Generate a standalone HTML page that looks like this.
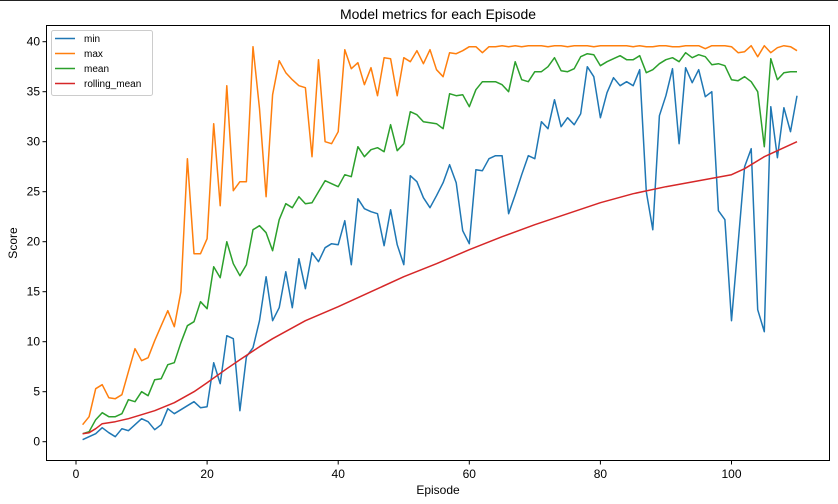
<!DOCTYPE html>
<html><head><meta charset="utf-8"><style>
html,body{margin:0;padding:0;background:#fff;}
svg{display:block;font-family:"Liberation Sans","DejaVu Sans",sans-serif;}
</style></head><body>
<svg id="chart" width="838" height="504" xmlns="http://www.w3.org/2000/svg">
<rect x="0" y="0" width="838" height="1" fill="#222"/>
<text x="438" y="19" font-size="14" text-anchor="middle" fill="#000">Model metrics for each Episode</text>
<g id="grid"></g>
<g id="series"></g>
<rect x="46.5" y="25.5" width="783" height="435" fill="none" stroke="#000" stroke-width="1"/>
<g id="axes"></g>
<text x="438" y="494" font-size="12" text-anchor="middle" fill="#000">Episode</text>
<text x="17" y="243" font-size="12" text-anchor="middle" fill="#000" transform="rotate(-90 17 243)">Score</text>
<g id="legend"></g>
</svg>
<script>
const minVals=[0.2,0.5,0.8,1.4,0.9,0.5,1.3,1.1,1.7,2.3,2.0,1.2,1.7,3.3,2.8,3.2,3.6,4.0,3.4,3.5,7.9,5.8,10.6,10.3,3.1,8.5,9.4,12.1,16.5,12.1,13.4,17.0,13.4,18.3,15.3,18.9,18.0,19.4,19.8,19.7,22.1,17.7,24.3,23.3,23.0,22.8,19.6,23.2,19.7,17.7,26.6,26.0,24.4,23.4,24.6,25.9,27.7,25.9,21.1,19.8,27.2,27.1,28.3,28.6,28.6,22.8,24.7,26.7,28.6,28.3,32.0,31.3,34.2,31.5,32.4,31.7,32.8,37.5,36.5,32.4,34.9,36.4,35.6,36.0,35.6,37.2,25.0,21.2,32.6,34.6,37.3,29.8,37.4,35.9,37.2,34.5,35.0,23.1,22.2,12.1,19.8,27.5,29.3,13.2,11.0,33.5,28.4,33.4,31.0,34.6];
const maxVals=[1.7,2.5,5.3,5.7,4.4,4.3,4.7,7.0,9.3,8.1,8.4,10.1,11.6,13.1,11.5,15.0,28.3,18.8,18.8,20.3,31.8,23.6,35.6,25.1,26.0,26.0,39.5,33.3,24.5,34.7,38.1,36.9,36.2,35.6,35.4,28.5,38.2,30.0,29.8,31.0,39.2,37.3,37.9,35.7,37.4,34.6,38.4,38.3,34.6,38.4,38.0,39.1,37.8,39.2,37.2,36.5,38.9,38.8,39.1,39.5,39.5,38.9,39.5,39.5,39.6,39.5,39.6,39.5,39.6,39.6,39.6,39.5,39.6,39.6,39.5,39.6,39.6,39.6,39.5,39.6,39.6,39.6,39.6,39.6,39.5,39.6,39.5,39.5,39.6,39.6,39.5,39.5,39.6,39.6,39.6,39.3,39.6,39.6,39.6,39.5,38.9,39.0,39.6,38.5,39.6,38.9,39.4,39.6,39.5,39.1];
const meanVals=[0.8,1.0,2.2,2.9,2.5,2.5,2.8,4.2,4.0,5.0,4.6,6.2,6.3,7.7,7.9,9.9,11.6,12.0,14.0,13.3,17.5,16.4,20.0,17.8,16.6,17.7,21.2,21.6,20.9,19.1,22.2,23.8,23.4,24.5,23.8,23.9,25.0,26.1,25.8,25.5,26.7,26.5,29.5,28.5,29.2,29.4,29.0,31.7,29.1,29.8,33.0,32.7,32.0,31.9,31.8,31.3,34.8,34.6,34.7,33.5,35.2,36.0,36.0,36.0,35.7,35.0,38.0,36.2,36.0,37.0,37.0,37.5,38.4,37.1,37.0,37.3,38.5,38.8,38.7,37.6,38.0,38.3,38.6,38.2,38.2,38.6,36.9,37.2,37.8,38.2,38.4,38.0,38.9,38.4,38.7,38.5,37.7,37.8,37.6,36.2,36.1,36.5,36.0,35.0,29.5,38.3,36.2,36.9,37.0,37.0];
const rollEpisodes=[1,2,3,4,6,8,10,12,15,18,20,23,25,28,30,35,40,45,50,55,60,65,70,75,80,85,90,95,100,102,105,108,110];
const rollVals=[0.8,0.9,1.3,1.8,2.0,2.3,2.7,3.1,3.9,5.0,5.9,7.3,8.2,9.5,10.3,12.1,13.5,15.0,16.5,17.8,19.2,20.5,21.7,22.8,23.9,24.8,25.5,26.1,26.7,27.3,28.5,29.4,30.0];
const xTicks=[0,20,40,60,80,100];
const yTicks=[0,5,10,15,20,25,30,35,40];

const NS="http://www.w3.org/2000/svg";
function xS(v){return 76+v*6.555;}
function yS(v){return 441.7-v*10;}
const axes=document.getElementById('axes');
function mk(tag,attrs,parent){const e=document.createElementNS(NS,tag);for(const k in attrs)e.setAttribute(k,attrs[k]);parent.appendChild(e);return e;}
xTicks.forEach(t=>{
  const x=xS(t);
  const l=mk('line',{x1:x,x2:x,y1:460.5,y2:464.5,stroke:'#000'},axes);
  
  
  const tx=mk('text',{x:x,y:478,'font-size':12,'text-anchor':'middle',fill:'#000'},axes);
  tx.textContent=t;
  
  
});
yTicks.forEach(t=>{
  const y=yS(t);
  const l=mk('line',{x1:42.5,x2:46.5,y1:y,y2:y,stroke:'#000'},axes);
  
  
  const tx=mk('text',{x:40,y:y+4,'font-size':12,'text-anchor':'end',fill:'#000'},axes);
  tx.textContent=t;
  
  
});
const series=document.getElementById('series');
function line(xs,ys,color,name){
  const d=ys.map((v,i)=>(i?'L':'M')+xS(xs[i]).toFixed(1)+','+yS(v).toFixed(1)).join(' ');
  const p=mk('path',{d:d,fill:'none',stroke:color,'stroke-width':1.5,'stroke-linejoin':'round'},series);
  
  
}
const eps=minVals.map((_,i)=>i+1);
line(eps,minVals,'#1f77b4','min-line');
line(eps,maxVals,'#ff7f0e','max-line');
line(eps,meanVals,'#2ca02c','mean-line');
line(rollEpisodes,rollVals,'#d62728','rolling-mean-line');
const lg=document.getElementById('legend');
const box=mk('rect',{x:51.5,y:30.5,width:101,height:65,rx:2,fill:'#fff','fill-opacity':0.8,stroke:'#ccc'},lg);


const legNames=['min','max','mean','rolling_mean'];
const legColors=['#1f77b4','#ff7f0e','#2ca02c','#d62728'];
legNames.forEach((n,i)=>{
  const y=38.5+i*15;
  const g=mk('g',{},lg);
  
  
  mk('line',{x1:55,x2:75,y1:y,y2:y,stroke:legColors[i],'stroke-width':1.5},g);
  const t=mk('text',{x:84,y:y+3.5,'font-size':10,fill:'#000'},g);
  t.textContent=n;
});
</script>
</body></html>
